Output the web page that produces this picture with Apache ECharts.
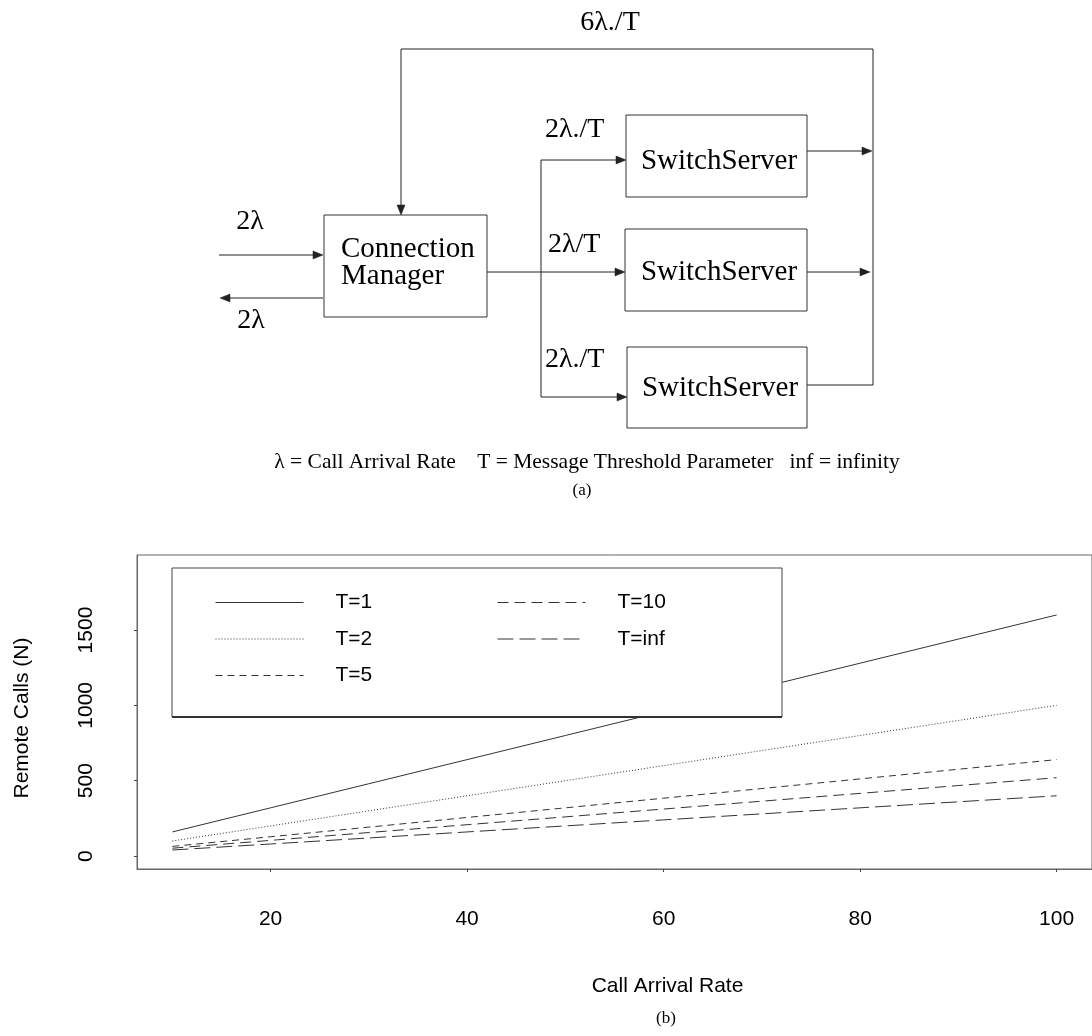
<!DOCTYPE html>
<html><head><meta charset="utf-8">
<script src="https://cdn.jsdelivr.net/npm/echarts@6/dist/echarts.min.js"></script>
<style>html,body{margin:0;padding:0;background:#fff}#c{width:1092px;height:1036px}</style>
</head><body><div id="c"></div>
<script>
// ---- data ----
const arrivalRate = [10, 20, 30, 40, 50, 60, 70, 80, 90, 100];
const seriesNames = ['T=1', 'T=2', 'T=5', 'T=10', 'T=inf'];
const callsT1   = [160, 320, 480, 640, 800, 960, 1120, 1280, 1440, 1600];
const callsT2   = [100, 200, 300, 400, 500, 600, 700, 800, 900, 1000];
const callsT5   = [64, 128, 192, 256, 320, 384, 448, 512, 576, 640];
const callsT10  = [52, 104, 156, 208, 260, 312, 364, 416, 468, 520];
const callsTinf = [40, 80, 120, 160, 200, 240, 280, 320, 360, 400];
const xTicks = [20, 40, 60, 80, 100];
const yTicks = [0, 500, 1000, 1500];

const seriesValues = [callsT1, callsT2, callsT5, callsT10, callsTinf];
const dashes = ['solid', [1, 2], [7, 5], [11, 6], [16, 6]];

const chart = echarts.init(document.getElementById('c'), null, {renderer: 'canvas'});

const INK = '#222';
const SERIF = '"Liberation Serif", "Times New Roman", serif';
const SANS = '"Liberation Sans", Arial, Helvetica, sans-serif';

function line(pts, w) {
  return {type: 'polyline', shape: {points: pts}, style: {stroke: INK, lineWidth: w || 1, fill: null}, z: 5};
}
function arrowHead(tipX, tipY, dir) {
  const L = 10, H = 4;
  let pts;
  if (dir === 'right') pts = [[tipX, tipY], [tipX - L, tipY - H], [tipX - L, tipY + H]];
  else if (dir === 'left') pts = [[tipX, tipY], [tipX + L, tipY - H], [tipX + L, tipY + H]];
  else pts = [[tipX, tipY], [tipX - H, tipY - L], [tipX + H, tipY - L]];
  return {type: 'polygon', shape: {points: pts}, style: {fill: INK, stroke: INK, lineWidth: 0.5}, z: 5};
}
function box(x, y, w, h) {
  return {type: 'rect', shape: {x: x, y: y, width: w, height: h}, style: {fill: '#fff', stroke: '#333', lineWidth: 1}, z: 4};
}
function txt(s, x, y, size, align, font) {
  return {type: 'text', x: x, y: y, style: {text: s, font: (size) + 'px ' + (font || SERIF), fill: '#000', align: align || 'center', verticalAlign: 'middle'}, z: 6};
}

const diagram = [
  // feedback loop
  line([[873, 385], [873, 49], [401, 49], [401, 206]]), arrowHead(401, 215, 'down'),
  // input / output of connection manager
  line([[219, 255], [314, 255]]), arrowHead(323, 255, 'right'),
  line([[323, 298], [229, 298]]), arrowHead(220, 298, 'left'),
  // to switch servers
  line([[487, 272], [616, 272]]), arrowHead(625, 272, 'right'),
  line([[541, 160], [541, 397]]),
  line([[541, 160], [617, 160]]), arrowHead(626, 160, 'right'),
  line([[541, 397], [618, 397]]), arrowHead(627, 397, 'right'),
  // outputs
  line([[807, 151], [863, 151]]), arrowHead(872, 151, 'right'),
  line([[807, 272], [861, 272]]), arrowHead(870, 272, 'right'),
  line([[807, 385], [873, 385]]),
  // boxes
  box(324, 215, 163, 102),
  box(626, 115, 181, 82),
  box(625, 229, 182, 82),
  box(627, 347, 180, 81),
  // texts
  txt('6λ./T', 610, 23, 28),
  txt('2λ', 250, 222, 28),
  txt('2λ', 251, 321, 28),
  txt('Connection', 341, 249, 29, 'left'),
  txt('Manager', 341, 276, 29, 'left'),
  txt('2λ./T', 545, 130, 28, 'left'),
  txt('2λ/T', 548, 245, 28, 'left'),
  txt('2λ./T', 545, 360, 28, 'left'),
  txt('SwitchServer', 719, 161, 29),
  txt('SwitchServer', 719, 272, 29),
  txt('SwitchServer', 720, 388, 29),
  txt('λ = Call Arrival Rate    T = Message Threshold Parameter   inf = infinity', 587, 462, 21.5),
  txt('(a)', 582, 491, 17),
  txt('(b)', 666, 1019, 17),
  // legend frame
  {type: 'rect', shape: {x: 172, y: 568, width: 610, height: 149}, style: {fill: '#fff', stroke: '#444', lineWidth: 1}, z: 10},
  {type: 'rect', shape: {x: 172, y: 716, width: 610, height: 2}, style: {fill: '#333'}, z: 11}
];

const series = seriesNames.map((n, i) => ({
  name: n,
  type: 'line',
  symbol: 'none',
  data: arrivalRate.map((x, j) => [x, seriesValues[i][j]]),
  lineStyle: {color: '#333', width: 1, type: dashes[i]},
  itemStyle: {color: '#333'},
  animation: false,
  z: 2
}));

function legendAt(names, left) {
  return {
    data: names, orient: 'vertical', left: left, top: 592, padding: 0,
    itemWidth: 88, itemHeight: 14, itemGap: 15.5, selectedMode: false, z: 20,
    itemStyle: {opacity: 0},
    lineStyle: {width: 1},
    textStyle: {fontFamily: SANS, fontSize: 21, color: '#000', padding: [0, 0, 0, 27]}
  };
}

chart.setOption({
  animation: false,
  backgroundColor: '#fff',
  grid: {left: 137, top: 555, width: 959, height: 314, show: true, borderColor: '#666', borderWidth: 1, backgroundColor: 'transparent'},
  xAxis: {
    type: 'value', min: 6.4, max: 103.6,
    name: 'Call Arrival Rate', nameLocation: 'middle', nameGap: 107,
    nameTextStyle: {fontFamily: SANS, fontSize: 21, color: '#000', padding: [0, 0, 0, 106]},
    axisLine: {show: true, onZero: false, lineStyle: {color: '#666', width: 1}},
    axisTick: {show: true, length: 3, customValues: xTicks, lineStyle: {color: '#444'}},
    axisLabel: {customValues: xTicks, margin: 40, fontFamily: SANS, fontSize: 21, color: '#000'},
    splitLine: {show: false}
  },
  yAxis: {
    type: 'value', min: -86, max: 1998,
    name: 'Remote Calls (N)', nameLocation: 'middle', nameGap: 104,
    nameTextStyle: {fontFamily: SANS, fontSize: 21, color: '#000', padding: [0, 12, 0, 0]},
    axisLine: {show: true, onZero: false, lineStyle: {color: '#666', width: 1}},
    axisTick: {show: true, length: 3, customValues: yTicks, lineStyle: {color: '#444'}},
    axisLabel: {customValues: yTicks, rotate: 90, margin: 40, fontFamily: SANS, fontSize: 21, color: '#000',
      formatter: v => String(v)},
    splitLine: {show: false}
  },
  legend: [legendAt(['T=1', 'T=2', 'T=5'], 215), legendAt(['T=10', 'T=inf'], 497)],
  series: series,
  graphic: {elements: diagram}
});
</script></body></html>
